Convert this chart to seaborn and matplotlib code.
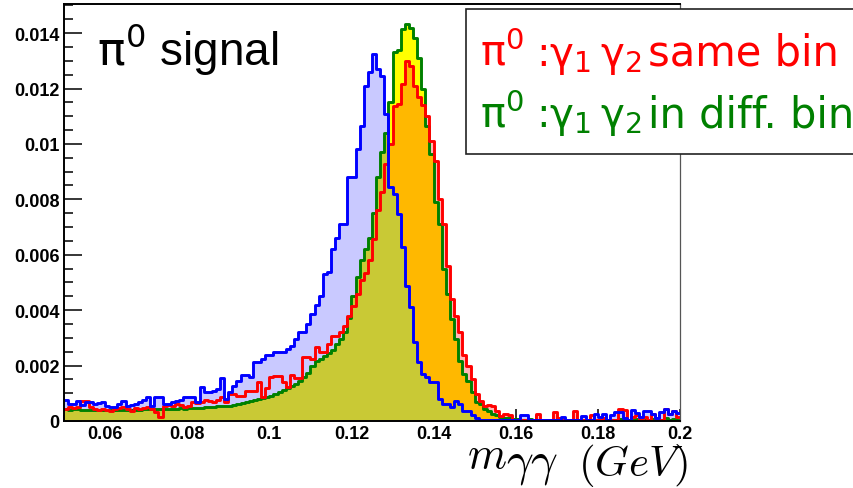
import numpy as np
import pandas as pd
import matplotlib
matplotlib.use("Agg")
import matplotlib.pyplot as plt
from matplotlib.patches import Rectangle
from matplotlib.ticker import FuncFormatter
import seaborn as sns

# ---------------- data (bin contents in units of 1e-4, bins of 0.001 from 0.05 to 0.20) ----
X_MIN, X_MAX = 0.05, 0.20
SCALE = 1e-4

blue_e4 = [
    7.7, 6.1, 6.1, 7.3, 5.8, 7.0, 6.8, 6.1, 6.5, 7.0,
    5.5, 5.0, 5.2, 6.1, 7.3, 5.5, 5.6, 6.1, 7.0, 7.5,
    8.7, 5.5, 8.7, 8.5, 6.1, 6.3, 7.0, 7.2, 7.5, 8.7,
    8.5, 8.7, 7.0, 12.3, 10.4, 10.4, 11.0, 11.5, 15.5, 8.0,
    10.4, 12.6, 14.5, 16.6, 16.6, 15.8, 21.4, 21.4, 22.4, 23.8,
    23.8, 24.9, 24.9, 24.9, 26.0, 27.2, 29.6, 32.0, 32.0, 35.0,
    38.6, 42.0, 45.0, 53.0, 53.7, 62.0, 66.0, 71.0, 71.0, 88.0,
    88.0, 98.0, 106.5, 121.0, 126.0, 132.4, 127.0, 124.6, 110.8, 84.4,
    82.0, 74.7, 62.8, 48.8, 41.0, 28.5, 21.3, 17.0, 15.9, 14.0,
    14.0, 8.0, 6.0, 6.0, 5.0, 7.3, 6.0, 3.7, 3.7, 2.0,
    1.0, 0.5, 0.5, 0.5, 0.5, 0.5, 0.5, 0.5, 0.5, 0.5,
    0.5, 2.2, 2.2, 0.5, 0.5, 0.5, 0.5, 0.5, 0.5, 0.5,
    0.5, 1.5, 0.5, 0.5, 0.5, 0.5, 1.8, 0.5, 0.5, 2.5,
    1.5, 2.5, 0.5, 2.3, 3.4, 3.2, 1.0, 0.5, 4.1, 3.0,
    1.5, 3.7, 3.6, 2.5, 1.0, 3.4, 4.3, 2.5, 3.5, 3.0,
]

red_e4 = [
    4.5, 5.0, 4.8, 5.2, 7.3, 7.3, 5.0, 4.3, 3.8, 4.2,
    3.8, 3.7, 4.3, 4.8, 5.0, 4.2, 3.7, 4.6, 4.4, 4.8,
    5.0, 4.5, 3.2, 1.4, 5.5, 5.8, 5.5, 6.0, 5.6, 5.0,
    5.5, 7.0, 6.5, 7.0, 7.5, 7.2, 7.0, 7.5, 8.7, 7.0,
    9.7, 9.7, 9.0, 9.0, 11.0, 10.8, 10.8, 14.0, 8.7, 12.0,
    15.9, 16.2, 16.2, 14.0, 12.3, 16.5, 15.5, 15.5, 23.0, 23.0,
    22.5, 26.7, 25.0, 25.0, 27.8, 30.5, 30.8, 32.0, 34.4, 38.0,
    41.6, 45.8, 51.0, 53.5, 58.0, 65.7, 76.0, 82.5, 92.7, 100.0,
    113.8, 114.4, 121.6, 130.0, 128.0, 121.0, 117.0, 114.0, 110.0, 101.0,
    94.0, 80.0, 71.0, 56.0, 44.0, 38.0, 32.0, 24.0, 20.0, 15.0,
    9.7, 7.3, 5.5, 5.8, 5.5, 3.7, 1.9, 2.5, 2.3, 0.5,
    0.3, 0.3, 0.5, 0.3, 0.3, 2.5, 0.3, 0.3, 0.3, 3.2,
    1.0, 0.3, 0.3, 0.3, 3.6, 0.5, 0.3, 0.3, 2.0, 0.3,
    0.3, 1.0, 0.3, 0.3, 0.3, 4.3, 4.0, 0.3, 1.5, 2.0,
    0.3, 1.5, 0.3, 2.5, 1.0, 0.3, 4.5, 2.5, 3.5, 1.5,
]

green_e4 = [
    4.3, 4.0, 4.2, 4.3, 4.0, 4.1, 4.0, 3.8, 3.9, 4.0,
    3.8, 3.9, 3.9, 4.0, 4.1, 4.0, 3.9, 4.0, 4.0, 4.2,
    4.2, 4.3, 4.3, 4.2, 4.4, 4.5, 4.4, 4.5, 4.6, 4.5,
    4.6, 4.7, 4.8, 4.8, 5.0, 5.0, 5.1, 5.3, 5.3, 5.4,
    5.5, 5.8, 6.0, 6.5, 6.9, 7.2, 7.5, 7.9, 8.3, 8.7,
    9.2, 9.7, 10.5, 11.3, 11.8, 12.5, 13.5, 14.5, 15.8, 17.5,
    20.0, 21.5, 22.4, 23.6, 24.5, 25.5, 27.8, 29.6, 32.0, 37.0,
    45.0, 52.0, 58.0, 62.0, 66.0, 75.0, 88.0, 97.0, 104.0, 115.0,
    133.0, 134.0, 141.4, 143.2, 142.0, 138.4, 131.0, 119.8, 106.5, 96.3,
    79.0, 71.0, 54.8, 46.0, 36.8, 29.6, 21.6, 17.0, 14.4, 10.4,
    6.8, 6.0, 4.5, 3.5, 2.4, 2.0, 1.5, 1.2, 1.0, 0.8,
    0.6, 0.5, 0.5, 0.8, 0.5, 0.4, 0.5, 0.4, 0.3, 0.5,
    0.3, 0.4, 0.3, 0.5, 0.3, 0.3, 0.4, 0.3, 0.3, 0.5,
    0.3, 0.3, 0.5, 0.3, 0.3, 0.8, 0.5, 0.3, 0.3, 0.6,
    0.3, 0.5, 0.3, 0.8, 0.3, 0.3, 1.0, 0.5, 0.8, 0.5,
]

x_ticks = [0.06, 0.08, 0.10, 0.12, 0.14, 0.16, 0.18, 0.20]
y_ticks = [0, 0.002, 0.004, 0.006, 0.008, 0.010, 0.012, 0.014]
Y_MAX = 0.01505

edges = np.linspace(X_MIN, X_MAX, len(blue_e4) + 1)
centers = 0.5 * (edges[:-1] + edges[1:])
bin_edges = [float(e) for e in edges]
df = pd.DataFrame({
    "m": centers,
    "blue": np.array(blue_e4) * SCALE,
    "red": np.array(red_e4) * SCALE,
    "green": np.array(green_e4) * SCALE,
})

# ---------------- style ----------------
sns.set_style("white")
plt.rcParams["font.family"] = ["Liberation Sans", "DejaVu Sans"]

W, H = 854, 489
fig = plt.figure(figsize=(W / 100, H / 100), dpi=100)
ax = fig.add_axes([64 / W, (H - 422) / H, (680 - 64) / W, (422 - 5) / H])


def hist(col, z, **kw):
    sns.histplot(data=df, x="m", weights=col, bins=bin_edges, element="step",
                 ax=ax, zorder=z, **kw)


# yellow fill of the "different bin" histogram
hist("green", 1, fill=True, color="#ffff00", alpha=1.0, linewidth=0)
# red dotted-pattern fill (approximated by translucent red)
hist("red", 2, fill=True, color="#ff0000", alpha=0.28, linewidth=0)
# blue pattern replaces underlying pattern: white-out, re-fill yellow inside, tint blue
hist("blue", 3, fill=True, color="white", alpha=1.0, linewidth=0)
blue_clip = ax.collections[-1]
hist("green", 4, fill=True, color="#ffff00", alpha=1.0, linewidth=0)
ax.collections[-1].set_clip_path(blue_clip.get_paths()[0], blue_clip.get_transform())
hist("blue", 5, fill=True, color="#0000ff", alpha=0.21, linewidth=0)

# outlines
hist("green", 6, fill=False, color="#008000", linewidth=2.1)
hist("red", 7, fill=False, color="#ff0000", linewidth=2.1)
hist("blue", 8, fill=False, color="#0000ff", linewidth=2.1)

ax.set_xlim(X_MIN, X_MAX)
ax.set_ylim(0, Y_MAX)
ax.set_xlabel("")
ax.set_ylabel("")

# ticks (ROOT style, inward)
ax.set_xticks(x_ticks)
ax.set_xticks(np.arange(X_MIN, X_MAX + 1e-9, 0.005), minor=True)
ax.set_yticks(y_ticks)
ax.set_yticks(np.arange(0, Y_MAX, 0.0005), minor=True)
fmt = FuncFormatter(lambda v, p: f"{v:g}")
ax.xaxis.set_major_formatter(fmt)
ax.yaxis.set_major_formatter(fmt)
ax.tick_params(which="both", direction="in", colors="black", width=1.1,
               top=False, right=False, bottom=True, left=True)
ax.tick_params(axis="y", which="major", length=13, labelsize=13, pad=3)
ax.tick_params(axis="y", which="minor", length=6.5)
ax.tick_params(axis="x", which="major", length=8.5, labelsize=13, pad=3)
ax.tick_params(axis="x", which="minor", length=4.3)
for lab in ax.get_xticklabels() + ax.get_yticklabels():
    lab.set_fontweight("bold")

for side in ["left", "bottom", "top"]:
    ax.spines[side].set_color("black")
    ax.spines[side].set_linewidth(1.4)
ax.spines["right"].set_color("#555555")
ax.spines["right"].set_linewidth(0.9)
for s in ax.spines.values():
    s.set_zorder(20)

# title-like label inside the frame
fig.text(97 / W, (H - 65) / H, r"$\mathrm{\pi}^{0}$ signal", fontsize=33,
         family=["Liberation Sans"], math_fontfamily="dejavusans",
         ha="left", va="baseline", color="black")

# legend box (extends past the right edge of the canvas)
fig.add_artist(Rectangle((466 / W, (H - 155) / H), 0.6, 145 / H,
                         transform=fig.transFigure, facecolor="white",
                         edgecolor="#222222", linewidth=1.2, zorder=30))


def legend_line(y_base, words, color):
    kw = dict(family=["DejaVu Sans"], math_fontfamily="dejavusans", color=color,
              ha="left", va="baseline", zorder=31)
    yb = (H - y_base) / H
    fig.text(480 / W, yb, r"$\mathrm{\pi}^{0}$", fontsize=30, **kw)
    fig.text(536 / W, yb, r":$\mathrm{\gamma}_{1}$", fontsize=29, **kw)
    fig.text(600 / W, yb, r"$\mathrm{\gamma}_{2}$", fontsize=29, **kw)
    fig.text(648 / W, yb, words, fontsize=30, **kw)


legend_line(66, "same bin", "#ff0000")
legend_line(127, "in diff. bin", "#008000")

# x-axis title m_{gamma gamma}(GeV), ROOT-like proportions
fig.text(467 / W, (H - 468) / H, r"$m$", fontsize=32,
         math_fontfamily="cm", ha="left", va="baseline", color="black")
fig.text(506 / W, (H - 475) / H, r"$\gamma\gamma$", fontsize=34,
         math_fontfamily="cm", ha="left", va="baseline", color="black")
fig.text(688 / W, (H - 476) / H, r"$(GeV)$", fontsize=31,
         math_fontfamily="cm", ha="right", va="baseline", color="black")

fig.savefig("out.png", dpi=100)
